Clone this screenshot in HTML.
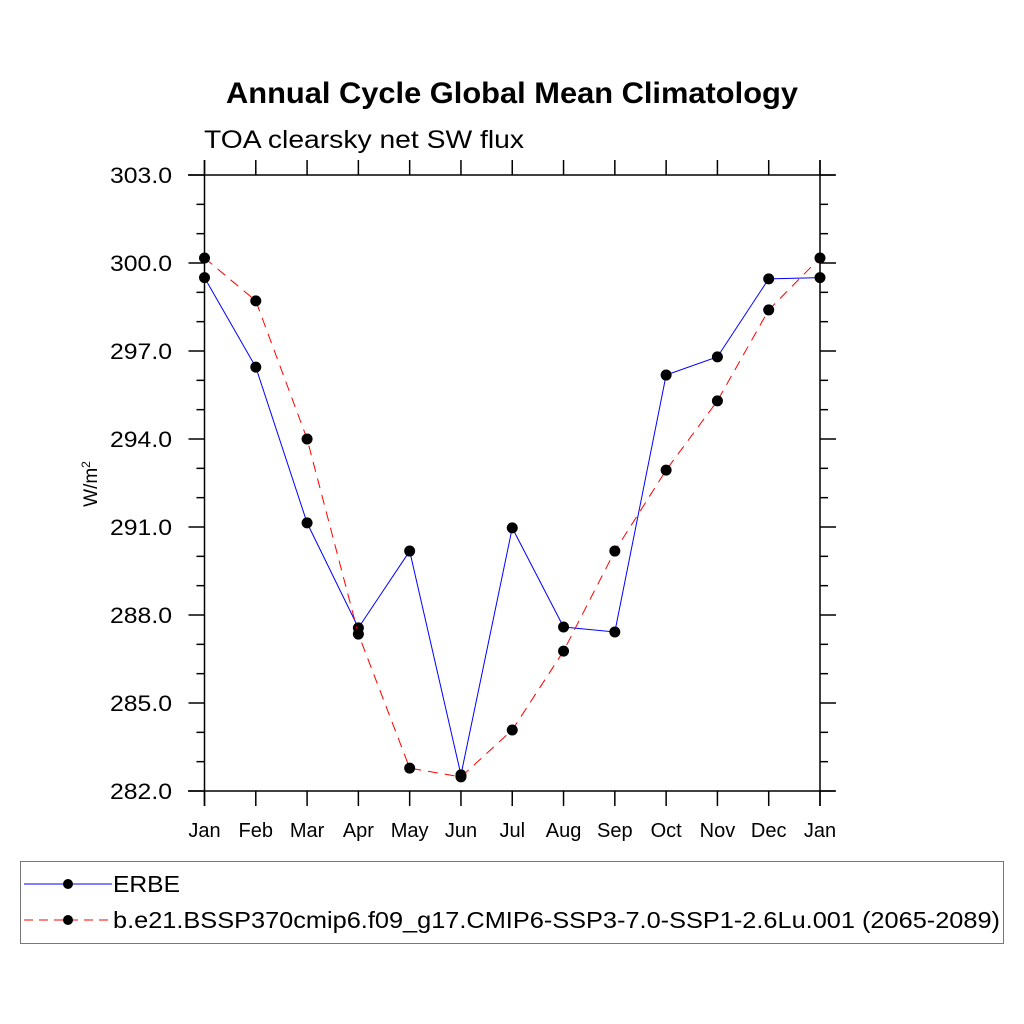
<!DOCTYPE html>
<html><head><meta charset="utf-8"><style>
body{margin:0;background:#fff}
svg{display:block;font-family:"Liberation Sans",sans-serif}
</style></head><body>
<svg id="chart" width="1024" height="1024" viewBox="0 0 1024 1024">
<text x="226" y="103" font-size="30" font-weight="bold" textLength="572" lengthAdjust="spacingAndGlyphs">Annual Cycle Global Mean Climatology</text>
<text x="204" y="148" font-size="25" textLength="320" lengthAdjust="spacingAndGlyphs">TOA clearsky net SW flux</text>
<text transform="translate(97,484) rotate(-90)" text-anchor="middle" font-size="19">W/m<tspan dy="-7" font-size="12">2</tspan></text>
<g id="axes" stroke="#000" stroke-width="1.5"></g>
<g id="ticklabels" font-size="22"></g>
<g id="series"></g>
<rect x="20.5" y="861.5" width="983" height="82" fill="none" stroke="#777" stroke-width="1"/>
<g>
<line x1="24" y1="884" x2="112" y2="884" stroke="#00f" stroke-width="1"/>
<circle cx="68" cy="884" r="5" fill="#000"/>
<text x="113" y="892" font-size="23" textLength="67" lengthAdjust="spacingAndGlyphs">ERBE</text>
</g>
<g>
<line x1="24" y1="920" x2="112" y2="920" stroke="#f00" stroke-width="1" stroke-dasharray="9,6"/>
<circle cx="68" cy="920" r="5" fill="#000"/>
<text x="113" y="928" font-size="23" textLength="887" lengthAdjust="spacingAndGlyphs">b.e21.BSSP370cmip6.f09_g17.CMIP6-SSP3-7.0-SSP1-2.6Lu.001 (2065-2089)</text>
</g>
</svg>
<script>
const months=["Jan","Feb","Mar","Apr","May","Jun","Jul","Aug","Sep","Oct","Nov","Dec","Jan"];
const erbe=[299.5,296.45,291.14,287.56,290.18,282.55,290.97,287.59,287.42,296.18,296.8,299.46,299.5];
const model=[300.17,298.71,294.0,287.35,282.78,282.48,284.08,286.77,290.18,292.94,295.3,298.4,300.17];
const yTicks=[282,285,288,291,294,297,300,303];
const yMin=282,yMax=303;
const X0=204.5,X1=820,Y0=791,Y1=175;
const xs=i=>X0+(X1-X0)*i/12;
const ys=v=>Y0-(v-yMin)/(yMax-yMin)*(Y0-Y1);
const NS="http://www.w3.org/2000/svg";
function mk(tag,attrs,parent){const e=document.createElementNS(NS,tag);for(const k in attrs)e.setAttribute(k,attrs[k]);parent.appendChild(e);return e;}
const ax=document.getElementById('axes');
const tl=document.getElementById('ticklabels');
let l;
l=mk('line',{x1:188,y1:Y1,x2:835,y2:Y1},ax);


l=mk('line',{x1:188,y1:Y0,x2:835,y2:Y0},ax);


l=mk('line',{x1:X0,y1:160,x2:X0,y2:806},ax);


l=mk('line',{x1:X1,y1:160,x2:X1,y2:806},ax);


for(let v=yMin;v<=yMax;v++){
  const y=ys(v);const major=(v-yMin)%3===0;
  mk('line',{x1:X0-(major?16:8),y1:y,x2:X0,y2:y},ax);
  mk('line',{x1:X1,y1:y,x2:X1+(major?16:8),y2:y},ax);
}
yTicks.forEach(v=>{
  const t=mk('text',{x:110,y:ys(v)+8,textLength:62,lengthAdjust:'spacingAndGlyphs'},tl);
  t.textContent=v.toFixed(1);
  
  
});
months.forEach((m,i)=>{
  const x=xs(i);
  mk('line',{x1:x,y1:Y0,x2:x,y2:Y0+15},ax);
  mk('line',{x1:x,y1:Y1,x2:x,y2:Y1-15},ax);
  const t=mk('text',{x:x,y:837,'text-anchor':'middle','font-size':20},tl);
  t.textContent=m;
  
  
});
const sg=document.getElementById('series');
function drawSeries(vals,color,dash,name){
  const g=mk('g',{},sg);
  
  
  const pts=vals.map((v,i)=>xs(i)+','+ys(v)).join(' ');
  const a={points:pts,fill:'none',stroke:color,'stroke-width':1};
  if(dash)a['stroke-dasharray']=dash;
  mk('polyline',a,g);
  vals.forEach((v,i)=>{
    const c=mk('circle',{cx:xs(i),cy:ys(v),r:5.5,fill:'#000'},g);
    
    
  });
}
drawSeries(erbe,'#00f',null,'erbe-series');
drawSeries(model,'#f00','10,7','model-series');
</script>
</body></html>
